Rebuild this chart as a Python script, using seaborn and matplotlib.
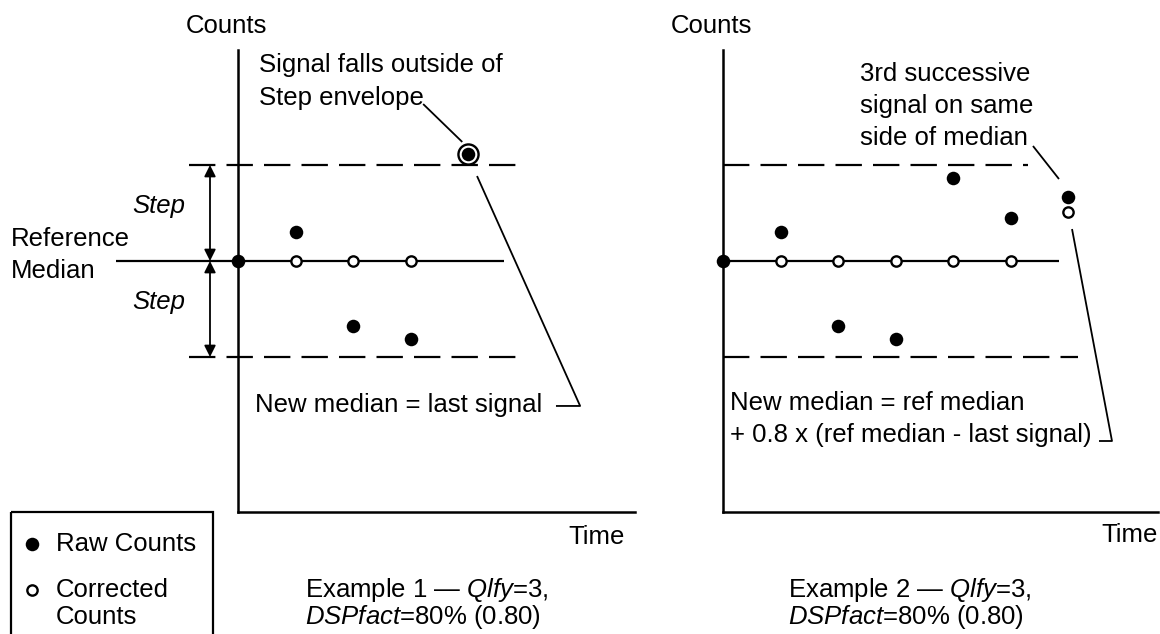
import matplotlib
matplotlib.use("Agg")
import numpy as np
import pandas as pd
import matplotlib.pyplot as plt
import seaborn as sns
from matplotlib.patches import Rectangle

# --- data (time steps, counts in units of Step relative to the reference median) ---
ex1_time = [0, 1, 2, 3, 4]
ex1_raw = [0.0, 0.30, -0.68, -0.81, 1.11]
ex1_corr_time = [1, 2, 3]
ex1_corr = [0.0, 0.0, 0.0]
ex1_flagged_time = [4]
ex1_flagged_val = [1.11]

ex2_time = [0, 1, 2, 3, 4, 5, 6]
ex2_raw = [0.0, 0.30, -0.68, -0.81, 0.86, 0.45, 0.67]
ex2_corr_time = [1, 2, 3, 4, 5, 6]
ex2_corr = [0.0, 0.0, 0.0, 0.0, 0.0, 0.51]

step = 1.0
median = 0.0

W, H = 1160, 634
PX_T = 57.5   # pixels per time step
PX_V = 96.0   # pixels per Step
Y_MED = 261

sns.set_theme(style="white")
plt.rcParams["font.family"] = ["Liberation Sans", "DejaVu Sans"]
plt.rcParams["text.color"] = "black"
plt.rcParams["mathtext.fontset"] = "custom"
plt.rcParams["mathtext.rm"] = "Liberation Sans"
plt.rcParams["mathtext.it"] = "Liberation Sans:italic"
plt.rcParams["lines.scale_dashes"] = False

FS = 18.5
DASH = (0, (19, 8))
RAW_S, CORR_S = 95, 55

fig = plt.figure(figsize=(11.6, 6.34), dpi=100)


def panel(x0, x1, y_top=50, y_bot=512):
    ax = fig.add_axes([x0 / W, 1 - y_bot / H, (x1 - x0) / W, (y_bot - y_top) / H])
    ax.set_xlim(0, (x1 - x0) / PX_T)
    ax.set_ylim(-(y_bot - Y_MED) / PX_V, (Y_MED - y_top) / PX_V)
    ax.set_facecolor("none")
    for s in ["top", "right"]:
        ax.spines[s].set_visible(False)
    for s in ["left", "bottom"]:
        ax.spines[s].set_linewidth(1.8)
        ax.spines[s].set_color("black")
    ax.set_xticks([])
    ax.set_yticks([])
    return ax


def points(ax, t, raw, ct, corr):
    sns.scatterplot(x=t, y=raw, ax=ax, color="black", s=RAW_S, linewidth=0,
                    clip_on=False, zorder=5, legend=False)
    sns.scatterplot(x=ct, y=corr, ax=ax, facecolor="white", edgecolor="black",
                    s=CORR_S, linewidth=1.7, clip_on=False, zorder=6, legend=False)


def line(ax, xs, ys, **kw):
    kw.setdefault("color", "black")
    kw.setdefault("lw", 1.3)
    ax.plot(xs, ys, clip_on=False, solid_capstyle="butt", **kw)


# ---------------- Example 1 ----------------
ax1 = panel(238, 635)
line(ax1, [-2.12, 4.63], [median, median], lw=1.6)
line(ax1, [-0.85, 4.99], [step, step], lw=1.6, ls=DASH)
line(ax1, [-0.85, 4.99], [-step, -step], lw=1.6, ls=DASH)
for a, b in [(median, step), (median, -step)]:
    ax1.annotate("", xy=(-0.487, b), xytext=(-0.487, a),
                 arrowprops=dict(arrowstyle="<|-|>", color="black", lw=1.3,
                                 mutation_scale=17, shrinkA=0, shrinkB=0),
                 annotation_clip=False)
sns.scatterplot(x=ex1_flagged_time, y=ex1_flagged_val, ax=ax1, facecolor="white",
                edgecolor="black", s=210, linewidth=1.7, clip_on=False, zorder=4,
                legend=False)
points(ax1, ex1_time, ex1_raw, ex1_corr_time, ex1_corr)
line(ax1, [3.22, 3.90], [1.635, 1.24])
line(ax1, [4.157, 5.95, 5.53], [0.885, -1.51, -1.51])

ax1.text(-0.209, 2.45, "Counts", fontsize=FS, ha="center", va="center")
ax1.text(0.365, 2.042, "Signal falls outside of", fontsize=FS, va="center")
ax1.text(0.365, 1.698, "Step envelope", fontsize=FS, va="center")
ax1.text(-3.948, 0.229, "Reference", fontsize=FS, va="center")
ax1.text(-3.948, -0.104, "Median", fontsize=FS, va="center")
ax1.text(-0.922, 0.573, "Step", fontsize=FS, style="italic", ha="right", va="center")
ax1.text(-0.922, -0.427, "Step", fontsize=FS, style="italic", ha="right", va="center")
ax1.text(0.296, -1.5, "New median = last signal", fontsize=FS, va="center")
ax1.text(6.243, -2.875, "Time", fontsize=FS, ha="center", va="center")
ax1.text(1.165, -3.427, "Example 1 — $\\mathit{Qlfy}$=3,", fontsize=FS, va="center")
ax1.text(1.165, -3.708, "$\\mathit{DSPfact}$=80% (0.80)", fontsize=FS, va="center")

# ---------------- Example 2 ----------------
ax2 = panel(723, 1158)
line(ax2, [0, 5.843], [median, median], lw=1.6)
line(ax2, [0, 5.30], [step, step], lw=1.6, ls=DASH)
line(ax2, [0, 6.17], [-step, -step], lw=1.6, ls=DASH)
points(ax2, ex2_time, ex2_raw, ex2_corr_time, ex2_corr)
line(ax2, [5.391, 5.843], [1.198, 0.854])
line(ax2, [6.07, 6.765, 6.539], [0.333, -1.875, -1.875])

ax2.text(-0.209, 2.45, "Counts", fontsize=FS, ha="center", va="center")
ax2.text(2.383, 1.948, "3rd successive", fontsize=FS, va="center")
ax2.text(2.383, 1.615, "signal on same", fontsize=FS, va="center")
ax2.text(2.383, 1.281, "side of median", fontsize=FS, va="center")
ax2.text(0.122, -1.479, "New median = ref median", fontsize=FS, va="center")
ax2.text(0.122, -1.812, "+ 0.8 x (ref median - last signal)", fontsize=FS, va="center")
ax2.text(7.078, -2.854, "Time", fontsize=FS, ha="center", va="center")
ax2.text(1.130, -3.427, "Example 2 — $\\mathit{Qlfy}$=$\\mathit{3}$,", fontsize=FS, va="center")
ax2.text(1.130, -3.708, "$\\mathit{DSPfact}$=80% (0.80)", fontsize=FS, va="center")

# ---------------- legend box ----------------
lax = fig.add_axes([0, 0, 1, 1])
lax.set_xlim(0, W)
lax.set_ylim(H, 0)
lax.axis("off")
lax.add_patch(Rectangle((11, 512), 202, 160, fill=False, lw=1.6, ec="black", clip_on=False))
lax.scatter([32], [544], s=RAW_S, color="black", linewidth=0)
lax.scatter([32], [590], s=CORR_S, facecolor="white", edgecolor="black", linewidth=1.7)
lax.text(56, 544, "Raw Counts", fontsize=FS, va="center")
lax.text(56, 590, "Corrected", fontsize=FS, va="center")
lax.text(56, 617, "Counts", fontsize=FS, va="center")

fig.savefig("out.png", dpi=100)
